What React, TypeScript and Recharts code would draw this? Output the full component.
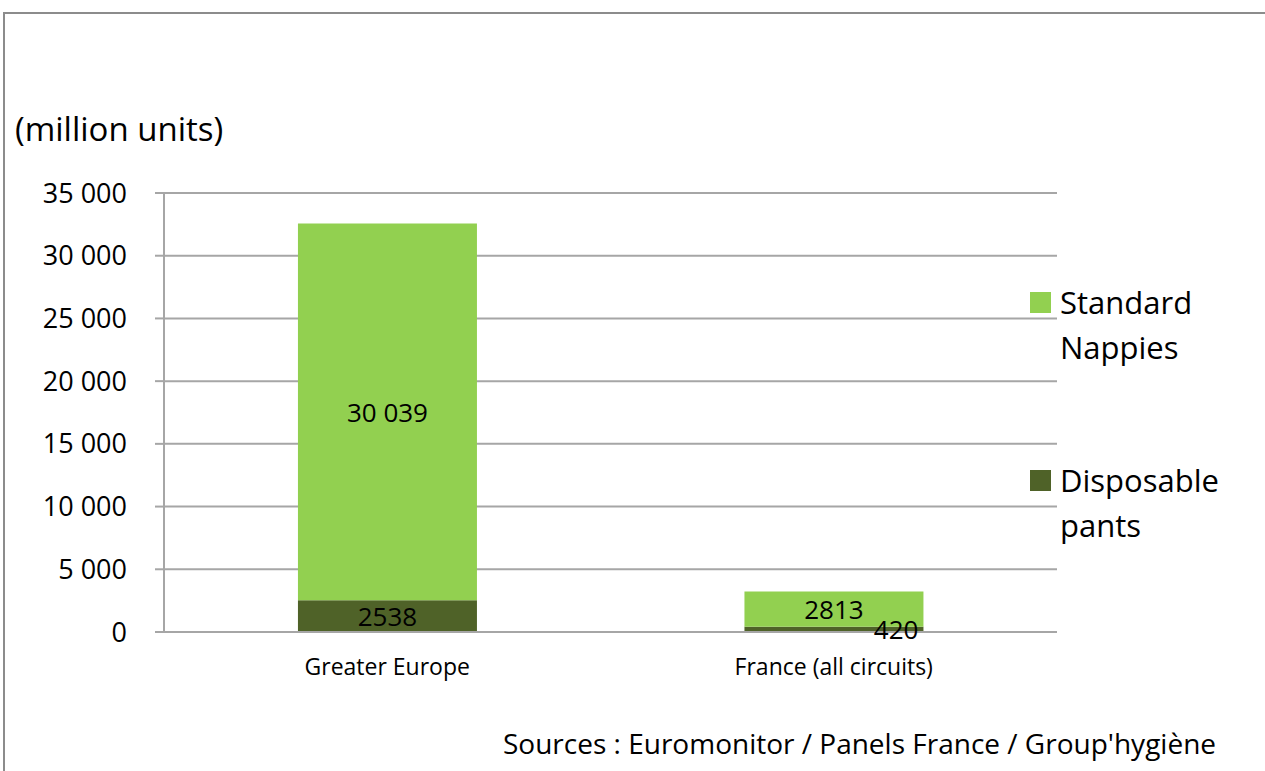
import { BarChart, Bar, XAxis, YAxis, CartesianGrid, LabelList } from 'recharts'

const categories = ['Greater Europe', 'France (all circuits)']
const disposablePants = [2538, 420]
const standardNappies = [30039, 2813]
const yTicks = [0, 5000, 10000, 15000, 20000, 25000, 30000, 35000]

const LIGHT = '#92D050'
const DARK = '#4F6228'
const GRID = '#a6a6a6'
const FONT = '"Open Sans", Lato, sans-serif'

const data = categories.map((name, i) => ({
  name,
  pos: i + 0.5,
  pants: disposablePants[i],
  nappies: standardNappies[i],
}))

// thousands separated by a space, like the source sheet
const fmt = (n: number) => String(n).replace(/\B(?=(\d{3})+(?!\d))/g, ' ')
const fmtLabel = (n: number) => (n >= 10000 ? fmt(n) : String(n))

function BarLabel(props: any) {
  const { x, y, width, height, value } = props
  const small = height < 20
  return (
    <text
      x={small ? x + width - 5 : x + width / 2}
      y={y + height / 2}
      textAnchor={small ? 'end' : 'middle'}
      dominantBaseline="central"
      fontSize={26}
      fontFamily={FONT}
      fill="#000"
    >
      {fmtLabel(value)}
    </text>
  )
}

function LegendBox() {
  const items = [
    { color: LIGHT, lines: ['Standard', 'Nappies'] },
    { color: DARK, lines: ['Disposable', 'pants'] },
  ]
  return (
    <div style={{ fontFamily: FONT, fontSize: 31, lineHeight: '45px', color: '#000' }}>
      {items.map((it, i) => (
        <div key={i} style={{ display: 'flex', alignItems: 'flex-start', marginBottom: i === 0 ? 88 : 0 }}>
          <div style={{ width: 21, height: 21, background: it.color, marginTop: 12, marginRight: 9 }} />
          <div>
            {it.lines.map((l) => (
              <div key={l}>{l}</div>
            ))}
          </div>
        </div>
      ))}
    </div>
  )
}

export default function App() {
  return (
    <div style={{ position: 'absolute', left: 0, top: 0, width: 1265, height: 771, background: '#fff', overflow: 'hidden' }}>
      <div
        style={{
          position: 'absolute', left: 3, top: 12, width: 1262, height: 759,
          borderTop: '2px solid #8c8c8c', borderLeft: '2px solid #8c8c8c',
        }}
      />
      <div style={{ position: 'absolute', left: 0, top: 0 }}>
        <BarChart
          width={1265}
          height={771}
          data={data}
          margin={{ top: 193, right: 208, bottom: 0, left: 104 }}
          barCategoryGap="30%"
        >
          <CartesianGrid vertical={false} stroke={GRID} strokeWidth={2} />
          <XAxis
            xAxisId="edges"
            type="number"
            dataKey="pos"
            domain={[0, 2]}
            ticks={[0, 1, 2]}
            tick={false}
            tickSize={9}
            axisLine={false}
            tickLine={{ stroke: GRID, strokeWidth: 2 }}
            height={0}
          />
          <XAxis
            xAxisId="cat"
            dataKey="name"
            tickLine={false}
            axisLine={{ stroke: GRID, strokeWidth: 2 }}
            tick={{ fontSize: 23, fontFamily: FONT, fill: '#000' }}
            tickMargin={21}
            height={139}
          />
          <YAxis
            width={60}
            domain={[0, 35000]}
            ticks={yTicks}
            interval={0}
            tickFormatter={fmt}
            tickSize={9}
            tickMargin={28}
            axisLine={{ stroke: GRID, strokeWidth: 2 }}
            tickLine={{ stroke: GRID, strokeWidth: 2 }}
            tick={{ fontSize: 27, fontFamily: FONT, fill: '#000' }}
          />
          <Bar xAxisId="cat" dataKey="pants" name="Disposable pants" stackId="a" fill={DARK} isAnimationActive={false}>
            <LabelList dataKey="pants" content={<BarLabel />} />
          </Bar>
          <Bar xAxisId="cat" dataKey="nappies" name="Standard Nappies" stackId="a" fill={LIGHT} isAnimationActive={false}>
            <LabelList dataKey="nappies" content={<BarLabel />} />
          </Bar>
        </BarChart>
      </div>
      <div style={{ position: 'absolute', left: 15, top: 106, fontFamily: FONT, fontSize: 33, color: '#000' }}>
        (million units)
      </div>
      <div style={{ position: 'absolute', left: 1030, top: 280, width: 235 }}>
        <LegendBox />
      </div>
      <div style={{ position: 'absolute', left: 503, top: 724, fontFamily: FONT, fontSize: 28, color: '#000' }}>
        Sources : Euromonitor / Panels France / Group'hygiène
      </div>
    </div>
  )
}
